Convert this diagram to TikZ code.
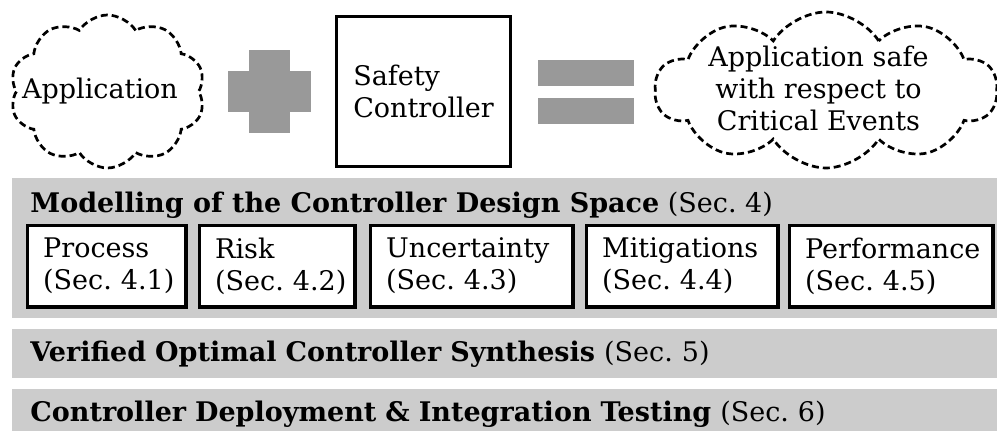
\documentclass[tikz,border=0pt]{standalone}
\usepackage{fontspec}
\setmainfont{DejaVu Serif}
\usetikzlibrary{shapes.symbols,positioning}
\definecolor{bandgray}{gray}{0.8}
\definecolor{signgray}{gray}{0.6}
\frenchspacing

\begin{document}
\begin{tikzpicture}[
  x=0.5pt, y=-0.5pt,
  txt/.style={font=\fontsize{13.5}{16}\selectfont},
  cloudy/.style={draw, cloud, cloud puffs=10, cloud puff arc=115,
                 cloud ignores aspect, dash pattern=on 3.5pt off 2pt,
                 line width=1.35pt, inner sep=0pt},
  ctrl/.style={draw, line width=1.6pt, align=left, txt},
  band/.style={fill=bandgray, anchor=north west, minimum width=492.5pt,
               inner xsep=9pt, align=left, txt},
  secbox/.style={draw, line width=1.6pt, fill=white, align=left,
                 inner xsep=8pt, minimum height=40.9pt, text width=#1, txt}]
\useasboundingbox (0,0) rectangle (997,431);
% top row: application + controller = safe application
\node[cloudy, minimum width=97.5pt, minimum height=76.5pt,
      label={[txt, xshift=-3.75pt]center:Application}] (app) at (107.5,91.5) {};
\fill[signgray] (249,50) rectangle (290,133);
\fill[signgray] (228,71) rectangle (311,112);
\node[ctrl, minimum width=87pt, minimum height=75pt] (ctrl) at (423.5,91.5)
  {Safety\\Controller};
\fill[signgray] (538,60) rectangle (634,86);
\fill[signgray] (538,98) rectangle (634,124);
\node[cloudy, minimum width=171pt, minimum height=78pt,
      label={[txt, align=center, xshift=-3.75pt, yshift=1pt]center:Application safe\\with respect to\\Critical Events}]
  (safe) at (826,90) {};
% design space band
\node[band, minimum height=70pt] (model) at (12,178) {};
\node[txt, anchor=base west, inner sep=0pt] (modtitle) at (30,213)
  {\textbf{Modelling of the Controller Design Space} (Sec.~4)};
\node[secbox=63.4pt, anchor=north west] (process) at (25.6,223.6) {Process\\(Sec.~4.1)};
\node[secbox=61.9pt, anchor=north west] (risk) at (197.6,223.6) {Risk\\(Sec.~4.2)};
\node[secbox=85.4pt, anchor=north west] (uncert) at (368.6,223.6) {Uncertainty\\(Sec.~4.3)};
\node[secbox=79.9pt, anchor=north west] (mitig) at (584.6,223.6) {Mitigations\\(Sec.~4.4)};
\node[secbox=85.9pt, anchor=north west] (perf) at (787.6,223.6) {Performance\\(Sec.~4.5)};
% synthesis and deployment bands
\node[band, minimum height=24.5pt, text width=474.5pt] (synth) at (12,329)
  {\textbf{Verified Optimal Controller Synthesis} (Sec.~5)};
\node[band, minimum height=24.5pt, text width=474.5pt] (deploy) at (12,389)
  {\textbf{Controller Deployment \& Integration Testing} (Sec.~6)};
\end{tikzpicture}
\end{document}
